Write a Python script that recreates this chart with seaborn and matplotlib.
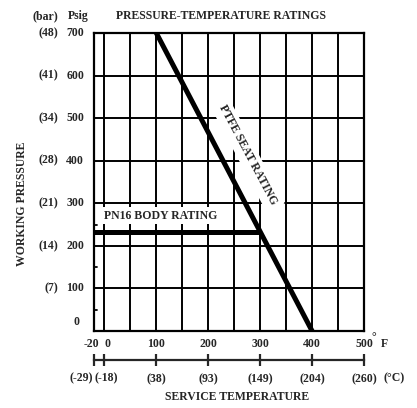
import numpy as np
import pandas as pd
import matplotlib
matplotlib.use('Agg')
import matplotlib.pyplot as plt
import seaborn as sns

sns.set_style('white')
plt.rcParams['font.family'] = ['Liberation Serif', 'DejaVu Serif']
plt.rcParams['font.weight'] = 'bold'

FS = 8.5

# --- data ---
ptfe_temp_f = [100, 400]
ptfe_psig = [700, 0]
pn16_temp_f = [-20, 300.6]
pn16_psig = [232, 232]

psig_ticks = [0, 100, 200, 300, 400, 500, 600, 700]
bar_labels = ['(7)', '(14)', '(21)', '(28)', '(34)', '(41)', '(48)']
temp_f_ticks = [-20, 0, 100, 200, 300, 400, 500]
temp_c_labels = ['(-29)', '(-18)', '(38)', '(93)', '(149)', '(204)', '(260)']

ptfe = pd.DataFrame({'temp': ptfe_temp_f, 'psig': ptfe_psig})
pn16 = pd.DataFrame({'temp': pn16_temp_f, 'psig': pn16_psig})

fig = plt.figure(figsize=(4.17, 4.08), dpi=100)
ax = fig.add_axes([94 / 417, 77 / 408, 270 / 417, 298 / 408])

ax.set_xlim(-20, 500)
ax.set_ylim(0, 700)

# grid
ax.set_xticks([0, 100, 200, 300, 400, 500])
ax.set_xticks([50, 150, 250, 350, 450], minor=True)
ax.set_yticks([100, 200, 300, 400, 500, 600])
ax.set_axisbelow(True)
ax.grid(which='both', color='black', linewidth=1.4)
ax.tick_params(which='both', length=0, labelbottom=False, labelleft=False)
for s in ax.spines.values():
    s.set_linewidth(1.6)
    s.set_color('black')

# small inner ticks on left spine
for v in [50, 150, 250]:
    ax.plot([-20, -15], [v, v], color='black', lw=1.3, clip_on=False, zorder=4)

sns.lineplot(data=ptfe, x='temp', y='psig', ax=ax, color='black', lw=3.6, zorder=5)
sns.lineplot(data=pn16, x='temp', y='psig', ax=ax, color='black', lw=3.6, zorder=5,
             solid_capstyle='butt')
ax.set_xlabel('')
ax.set_ylabel('')

ax.text(276, 413, 'PTFE SEAT RATING', rotation=-62, ha='center', va='center',
        rotation_mode='anchor', fontsize=FS, zorder=4,
        bbox=dict(facecolor='white', edgecolor='none', pad=3))
ax.text(108, 271, 'PN16 BODY RATING', ha='center', va='center', fontsize=FS, zorder=4,
        bbox=dict(facecolor='white', edgecolor='none', pad=2))

# y labels
ytr = ax.get_yaxis_transform()
for v in psig_ticks[1:]:
    ax.text(-0.037, v, str(v), transform=ytr, ha='right', va='center', fontsize=FS)
ax.text(-0.055, 20, '0', transform=ytr, ha='right', va='center', fontsize=FS)
for v, lab in zip(psig_ticks[1:], bar_labels):
    ax.text(-0.133, v, lab, transform=ytr, ha='right', va='center', fontsize=FS)
fig.text(58 / 417, 1 - 16 / 408, '(bar)', ha='right', va='center', fontsize=FS)
fig.text(68 / 417, 1 - 16 / 408, 'Psig', ha='left', va='center', fontsize=FS)

# x labels (F)
xtr = ax.get_xaxis_transform()
for v in temp_f_ticks:
    dx = -5 if v == -20 else (6 if v == 0 else 0)
    ax.text(v + dx, -0.025, str(v), transform=xtr, ha='center', va='top', fontsize=FS)
ax.text(515, 0.0, '°', transform=xtr, ha='left', va='top', fontsize=FS)
ax.text(532, -0.025, 'F', transform=xtr, ha='left', va='top', fontsize=FS)

# Celsius scale
sec = ax.secondary_xaxis(-0.097)
sec.set_xticks(temp_f_ticks)
sec.set_xticklabels(['', ''] + temp_c_labels[2:])
sec.spines['bottom'].set_linewidth(1.6)
sec.tick_params(direction='inout', length=9, width=1.6, labelsize=FS, pad=5)
# the two leftmost Celsius labels sit side by side around -20 F
ax.text(-21, -0.158, temp_c_labels[0], transform=xtr, ha='right', va='center', fontsize=FS)
ax.text(-19, -0.158, temp_c_labels[1], transform=xtr, ha='left', va='center', fontsize=FS)
ax.text(538, -0.158, '(°C)', transform=xtr, ha='left', va='center', fontsize=FS)

fig.text(221 / 417, 1 - 16 / 408, 'PRESSURE-TEMPERATURE RATINGS', ha='center', va='center', fontsize=FS)
fig.text(237 / 417, 1 - 397 / 408, 'SERVICE TEMPERATURE', ha='center', va='center', fontsize=FS)
fig.text(22 / 417, 1 - 204 / 408, 'WORKING PRESSURE', ha='center', va='center', rotation=90, fontsize=FS)

fig.savefig('out.png', dpi=100)
